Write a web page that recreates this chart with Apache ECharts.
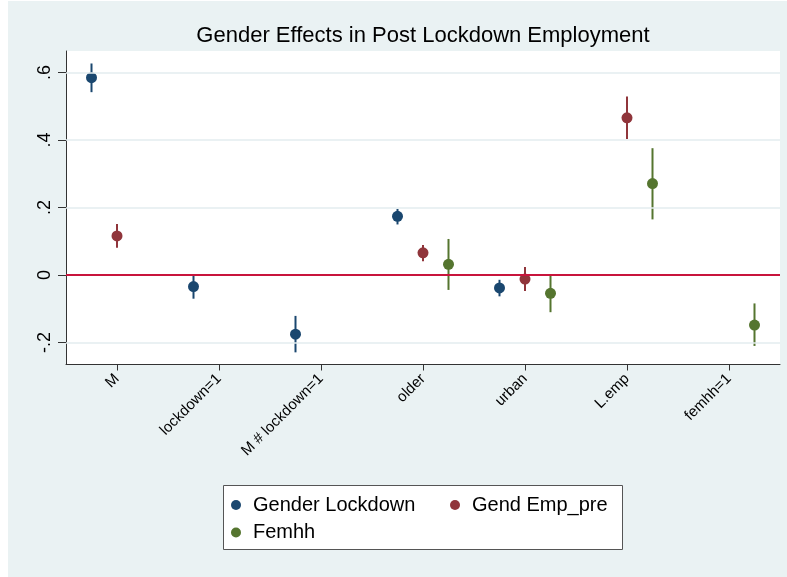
<!DOCTYPE html>
<html>
<head>
<meta charset="utf-8">
<script src="https://cdn.jsdelivr.net/npm/echarts@6/dist/echarts.min.js"></script>
<style>
html,body{margin:0;padding:0;background:#ffffff;}
#chart{position:absolute;left:8px;top:1px;width:779px;height:576px;}
</style>
</head>
<body>
<div id="chart"></div>
<script>
// ---- data ----
const categories = ['M', 'lockdown=1', 'M # lockdown=1', 'older', 'urban', 'L.emp', 'femhh=1'];
const seriesNames = ['Gender Lockdown', 'Gend Emp_pre', 'Femhh'];

const genderLockdown   = [0.585, -0.034, -0.175, 0.174, -0.038, null, null];
const genderLockdownLo = [0.542, -0.070, -0.229, 0.150, -0.063, null, null];
const genderLockdownHi = [0.627,  0.003, -0.121, 0.196, -0.014, null, null];

const gendEmpPre   = [0.116, null, null, 0.066, -0.012, 0.466, null];
const gendEmpPreLo = [0.081, null, null, 0.041, -0.047, 0.403, null];
const gendEmpPreHi = [0.151, null, null, 0.089,  0.024, 0.529, null];

const femhh   = [null, null, null, 0.032, -0.054, 0.271, -0.148];
const femhhLo = [null, null, null, -0.044, -0.110, 0.165, -0.210];
const femhhHi = [null, null, null, 0.107, -0.002, 0.376, -0.084];

const yTicks = [-0.2, 0, 0.2, 0.4, 0.6];
const yTickLabels = ['-.2', '0', '.2', '.4', '.6'];

// ---- styling / layout ----
const colors = ['#1A476F', '#90353B', '#55752F'];
const offsets = [-0.25, 0, 0.25];
const FONT = 'Liberation Sans, Arial, Helvetica, sans-serif';

const groups = [
  {est: genderLockdown, lo: genderLockdownLo, hi: genderLockdownHi},
  {est: gendEmpPre, lo: gendEmpPreLo, hi: gendEmpPreHi},
  {est: femhh, lo: femhhLo, hi: femhhHi}
];

const series = [];
// gridlines
series.push({
  type: 'line', xAxisIndex: 1, data: [], silent: true, z: 1,
  markLine: {
    symbol: 'none', silent: true, label: {show: false},
    lineStyle: {color: '#E3ECEF', width: 1.5, type: 'solid'},
    data: yTicks.filter(v => v !== 0).map(v => ({yAxis: v}))
  }
});
// zero line
series.push({
  type: 'line', xAxisIndex: 1, data: [], silent: true, z: 2,
  markLine: {
    symbol: 'none', silent: true, label: {show: false},
    lineStyle: {color: '#C8143C', width: 2, type: 'solid'},
    data: [{yAxis: 0}]
  }
});

groups.forEach((g, si) => {
  const ciData = [];
  const ptData = [];
  g.est.forEach((v, i) => {
    if (v === null) return;
    const x = i + 1 + offsets[si];
    ciData.push([x, g.lo[i], g.hi[i]]);
    ptData.push([x, v]);
  });
  series.push({
    type: 'custom', xAxisIndex: 1, z: 3, silent: true,
    data: ciData,
    encode: {x: 0, y: [1, 2]},
    renderItem: function (params, api) {
      const p1 = api.coord([api.value(0), api.value(1)]);
      const p2 = api.coord([api.value(0), api.value(2)]);
      return {
        type: 'line',
        shape: {x1: p1[0], y1: p1[1], x2: p2[0], y2: p2[1]},
        style: {stroke: colors[si], lineWidth: 2}
      };
    }
  });
  series.push({
    name: seriesNames[si],
    type: 'scatter', xAxisIndex: 1, z: 4,
    symbol: 'circle', symbolSize: 11,
    itemStyle: {color: colors[si], opacity: 1},
    data: ptData
  });
});

const legendBase = {
  orient: 'horizontal', padding: 0, itemWidth: 10, itemHeight: 10,
  icon: 'circle', selectedMode: false,
  textStyle: {fontFamily: FONT, fontSize: 20, color: '#000', lineHeight: 20, padding: [0, 0, 0, 7]}
};

const chart = echarts.init(document.getElementById('chart'));
chart.setOption({
  backgroundColor: '#EAF2F3',
  animation: false,
  title: {
    text: 'Gender Effects in Post Lockdown Employment',
    left: 410, top: 19, textAlign: 'center',
    textStyle: {fontFamily: FONT, fontSize: 22, fontWeight: 'normal', color: '#000'}
  },
  grid: {
    left: 58, right: 7, top: 50, bottom: 212.5,
    show: true, backgroundColor: '#ffffff', borderWidth: 0
  },
  legend: [
    Object.assign({}, legendBase, {data: [seriesNames[0]], left: 223, top: 494}),
    Object.assign({}, legendBase, {data: [seriesNames[1]], left: 442, top: 494}),
    Object.assign({}, legendBase, {data: [seriesNames[2]], left: 223, top: 521.5})
  ],
  graphic: [{
    type: 'rect', z: -1, silent: true,
    shape: {x: 215.5, y: 484.5, width: 399, height: 64},
    style: {fill: '#ffffff', stroke: '#555555', lineWidth: 1}
  }],
  xAxis: [{
    type: 'category', data: categories, boundaryGap: true,
    axisLine: {show: true, onZero: false, lineStyle: {color: '#333', width: 1}},
    axisTick: {show: true, alignWithLabel: true, length: 6, lineStyle: {color: '#333'}},
    axisLabel: {interval: 0, rotate: 45, margin: 12, fontFamily: FONT, fontSize: 15, color: '#000'},
    splitLine: {show: false}
  }, {
    type: 'value', min: 0.5, max: 7.5, show: false
  }],
  yAxis: {
    type: 'value', min: -0.265, max: 0.664,
    axisLine: {show: true, lineStyle: {color: '#333', width: 1}},
    axisTick: {show: true, length: 8, lineStyle: {color: '#333'}, customValues: yTicks},
    axisLabel: {
      rotate: 90, margin: 12, fontFamily: FONT, fontSize: 18, color: '#000',
      customValues: yTicks,
      formatter: function (v) {
        let best = 0;
        yTicks.forEach((t, i) => { if (Math.abs(t - v) < Math.abs(yTicks[best] - v)) best = i; });
        return yTickLabels[best];
      }
    },
    splitLine: {show: false}
  },
  series: series
});
</script>
</body>
</html>
